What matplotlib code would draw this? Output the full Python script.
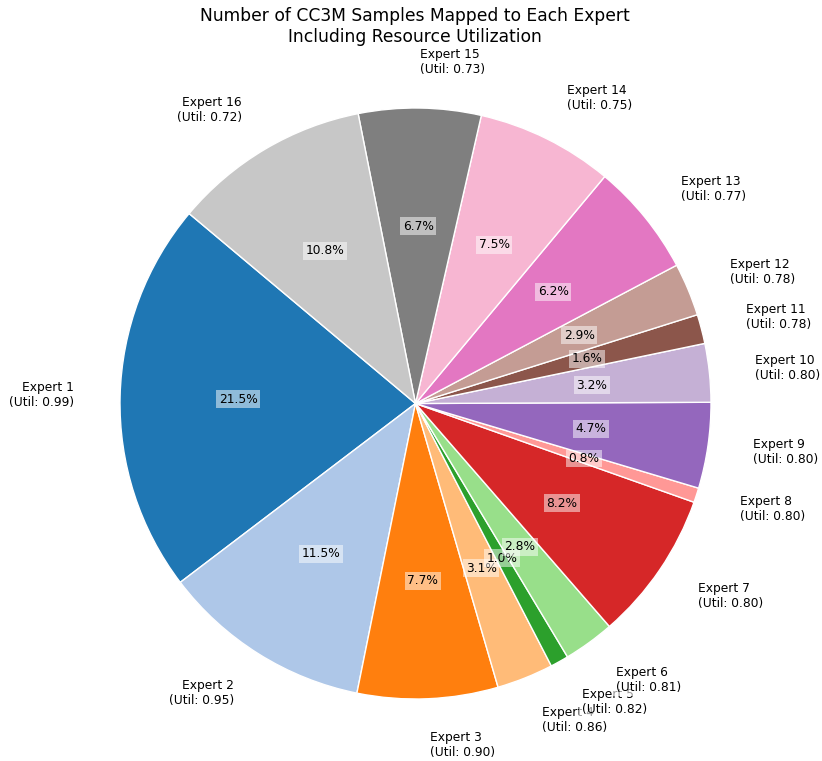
import matplotlib
matplotlib.use("Agg")
import matplotlib.pyplot as plt
import numpy as np

experts = [f"Expert {i}" for i in range(1, 17)]
shares = [21.5, 11.5, 7.7, 3.1, 1.0, 2.8, 8.2, 0.8, 4.7, 3.2, 1.6, 2.9, 6.2, 7.5, 6.7, 10.8]
utilization = [0.99, 0.95, 0.90, 0.86, 0.82, 0.81, 0.80, 0.80, 0.80, 0.80, 0.78, 0.78, 0.77, 0.75, 0.73, 0.72]
title = "Number of CC3M Samples Mapped to Each Expert\nIncluding Resource Utilization"

W, H = 822, 761
fig = plt.figure(figsize=(W / 100, H / 100), dpi=100)
cx, cy, R = 415.5, 357.5, 295.5  # center from bottom
k = 1.3
ax = fig.add_axes([(cx - k * R) / W, (cy - k * R) / H, 2 * k * R / W, 2 * k * R / H])
ax.set_aspect("equal")
ax.axis("off")

colors = plt.get_cmap("tab20").colors
labels = [f"{e}\n(Util: {u:.2f})" for e, u in zip(experts, utilization)]
wedges, texts, autotexts = ax.pie(
    shares, labels=labels, colors=colors[:len(shares)], startangle=140,
    autopct="%1.1f%%", pctdistance=0.6, labeldistance=1.155,
    wedgeprops=dict(edgecolor="white", linewidth=1),
    textprops=dict(fontsize=8.8), frame=False,
)
ax.set_xlim(-k, k)
ax.set_ylim(-k, k)
for t in texts:
    t.set_bbox(dict(facecolor="white", alpha=0.6, edgecolor="none", pad=2))
for t in autotexts:
    t.set_bbox(dict(facecolor="white", alpha=0.5, edgecolor="none", boxstyle="square,pad=0.2"))

fig.text(0.505, 1 - 7 / H, title, ha="center", va="top", fontsize=12.3, multialignment="center")
fig.savefig("out.png", dpi=100)
